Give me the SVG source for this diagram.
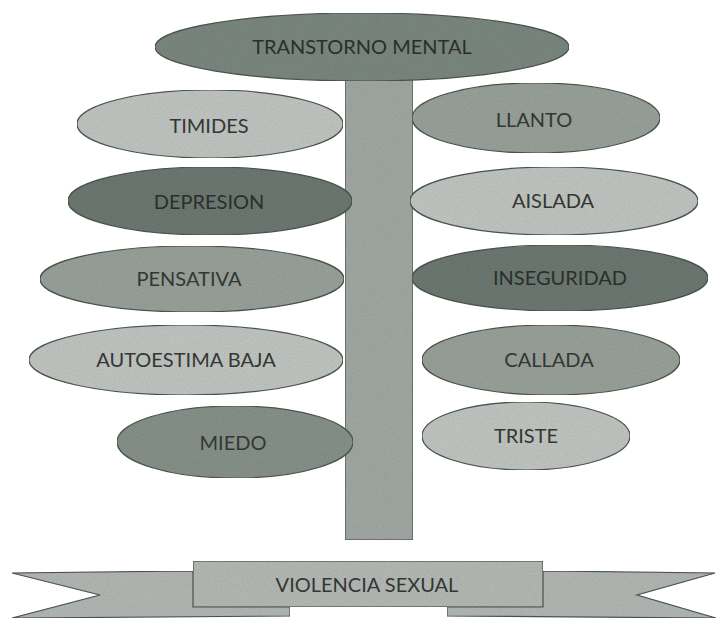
<svg xmlns="http://www.w3.org/2000/svg" width="717" height="620" viewBox="0 0 717 620">
<defs>
<filter id="grain" x="0" y="0" width="100%" height="100%">
<feTurbulence type="fractalNoise" baseFrequency="0.9" numOctaves="2" seed="3" result="n"/>
<feColorMatrix in="n" type="matrix" values="0 0 0 0 0  0 0 0 0 0  0 0 0 0 0  0 0 0 0.25 0" result="dots"/>
<feComposite in="dots" in2="SourceGraphic" operator="in" result="d2"/>
<feMerge><feMergeNode in="SourceGraphic"/><feMergeNode in="d2"/></feMerge>
</filter>
<style>
.sh{stroke:#4f5852;stroke-width:1.2;filter:url(#grain)}
.lt{fill:#c6cac6}
.md{fill:#9ca59e}
.md2{fill:#8a958e}
.dk{fill:#6f7c74}
.top{fill:#7e8b83}
.t{font-family:Lato,"Open Sans","Liberation Sans",sans-serif;font-size:20px;fill:#323734;text-anchor:middle}
.td{fill:#2a2f2c}
</style>
</defs>
<rect width="717" height="620" fill="#ffffff"/>

<g id="banner">
<path class="sh" fill="#b7bcb8" d="M12,573 L193,571 L193,607 L290,607 L290,616 L12,618 L100,595 Z"/>
<path class="sh" fill="#b7bcb8" d="M543,571 L715,573 L637,595 L716,618 L447,616 L447,607 L543,607 Z"/>
<rect class="sh" fill="#b9beba" x="193" y="561" width="350" height="46"/>
<text class="t" x="367" y="592">VIOLENCIA SEXUAL</text>
</g>

<g id="trunk">
<rect class="sh" fill="#a5aca7" x="345" y="78" width="68" height="462"/>
</g>

<g id="transtorno-mental">
<ellipse class="sh top" cx="362" cy="47" rx="207" ry="34"/>
<text class="t td" x="362" y="54">TRANSTORNO MENTAL</text>
</g>

<g id="timides">
<ellipse class="sh lt" cx="210" cy="124" rx="133" ry="34"/>
<text class="t" x="209" y="133">TIMIDES</text>
</g>
<g id="depresion">
<ellipse class="sh dk" cx="210" cy="201" rx="142" ry="34"/>
<text class="t td" x="209" y="209">DEPRESION</text>
</g>
<g id="pensativa">
<ellipse class="sh md" cx="192" cy="279" rx="152" ry="33"/>
<text class="t" x="189" y="286">PENSATIVA</text>
</g>
<g id="autoestima-baja">
<ellipse class="sh lt" cx="186" cy="360" rx="157" ry="35"/>
<text class="t" x="186" y="367">AUTOESTIMA BAJA</text>
</g>
<g id="miedo">
<ellipse class="sh md2" cx="235" cy="442" rx="118" ry="36"/>
<text class="t" x="233" y="450">MIEDO</text>
</g>

<g id="llanto">
<ellipse class="sh md" cx="536" cy="118" rx="124" ry="35"/>
<text class="t" x="534" y="127">LLANTO</text>
</g>
<g id="aislada">
<ellipse class="sh lt" cx="554" cy="201" rx="144" ry="34"/>
<text class="t" x="553" y="208">AISLADA</text>
</g>
<g id="inseguridad">
<ellipse class="sh dk" cx="560" cy="278" rx="148" ry="33"/>
<text class="t td" x="560" y="285">INSEGURIDAD</text>
</g>
<g id="callada">
<ellipse class="sh md" cx="551" cy="360" rx="129" ry="35"/>
<text class="t" x="549" y="367">CALLADA</text>
</g>
<g id="triste">
<ellipse class="sh lt" cx="526" cy="436" rx="104" ry="34"/>
<text class="t" x="526" y="443">TRISTE</text>
</g>
</svg>
